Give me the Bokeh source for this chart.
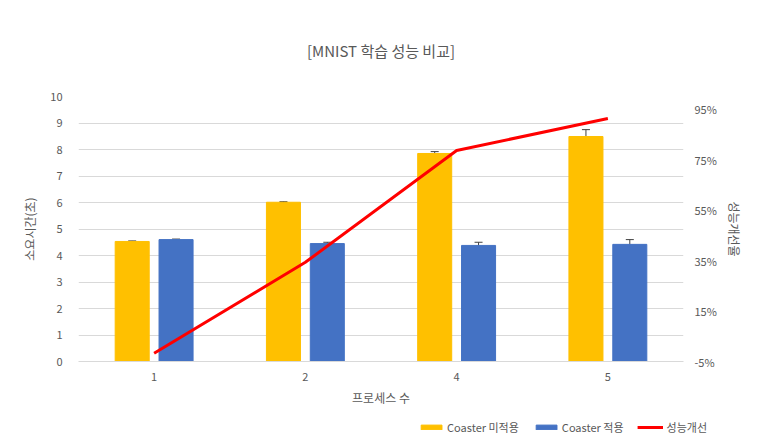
from bokeh.plotting import figure
from bokeh.layouts import column, row
from bokeh.models import (ColumnDataSource, LinearAxis, Range1d, FixedTicker,
                          NumeralTickFormatter, Whisker, TeeHead, Legend, LegendItem)
from bokeh.transform import dodge
from bokeh.embed import file_html
from bokeh.resources import INLINE

# data
processes = ["1", "2", "4", "5"]
time_without = [4.53, 6.01, 7.85, 8.49]
err_without = [0.02, 0.02, 0.07, 0.26]
time_with = [4.60, 4.45, 4.38, 4.42]
err_with = [0.02, 0.05, 0.12, 0.18]
improvement = [-0.017, 0.343, 0.786, 0.913]
series_names = ["Coaster 미적용", "Coaster 적용", "성능개선"]

FONT = "Noto Sans CJK KR"
GRAY = "#595959"
YELLOW, BLUE, RED = "#FFC000", "#4472C4", "#FF0000"

src = ColumnDataSource(dict(
    cat=processes,
    t0=time_without,
    t0_lo=[v - e for v, e in zip(time_without, err_without)],
    t0_hi=[v + e for v, e in zip(time_without, err_without)],
    t1=time_with,
    t1_lo=[v - e for v, e in zip(time_with, err_with)],
    t1_hi=[v + e for v, e in zip(time_with, err_with)],
    pct=improvement,
))

p = figure(x_range=processes, y_range=Range1d(0, 10), width=747, height=411,
           output_backend="svg", toolbar_location=None,
           title="[MNIST 학습 성능 비교]",
           min_border_left=78, min_border_right=64,
           min_border_top=96, min_border_bottom=50)
p.outline_line_color = None
p.title.align = "center"
p.title.text_font = FONT
p.title.text_font_size = "15px"
p.title.text_font_style = "normal"
p.title.text_color = GRAY
p.title.offset = 0
p.title.standoff = 72

p.extra_y_ranges = {"pct": Range1d(-0.05, 1.0)}

b0 = p.vbar(x=dodge("cat", -0.145, range=p.x_range), top="t0", width=0.225,
            source=src, color=YELLOW)
b1 = p.vbar(x=dodge("cat", 0.145, range=p.x_range), top="t1", width=0.225,
            source=src, color=BLUE)

for off, lo, hi in [(-0.145, "t0_lo", "t0_hi"), (0.145, "t1_lo", "t1_hi")]:
    w = Whisker(base=dodge("cat", off, range=p.x_range), lower=lo, upper=hi,
                source=src, line_color="#404040", line_width=1,
                upper_head=TeeHead(size=8, line_color="#404040", line_width=1),
                lower_head=TeeHead(size=8, line_color="#404040", line_width=1))
    p.add_layout(w)

p.line(x="cat", y="pct", source=src, y_range_name="pct",
       line_color=RED, line_width=3)

# axes
p.yaxis.ticker = FixedTicker(ticks=list(range(0, 11)))
p.yaxis.axis_label = "소요시간(초)"
p.xaxis.axis_label = "프로세스 수"
right = LinearAxis(y_range_name="pct", axis_label="성능개선율",
                   ticker=FixedTicker(ticks=[-0.05, 0.15, 0.35, 0.55, 0.75, 0.95]),
                   formatter=NumeralTickFormatter(format="0%"))
p.add_layout(right, "right")

for ax in [p.yaxis[0], p.xaxis[0], right]:
    ax.major_tick_line_color = None
    ax.minor_tick_line_color = None
    ax.major_label_text_font = FONT
    ax.major_label_text_font_size = "11px"
    ax.major_label_text_color = GRAY
    ax.axis_label_text_font = FONT
    ax.axis_label_text_font_size = "12px"
    ax.axis_label_text_font_style = "normal"
    ax.axis_label_text_color = GRAY
p.yaxis[0].axis_line_color = None
right.axis_line_color = None
p.xaxis[0].axis_line_color = "#D9D9D9"
p.xaxis[0].major_label_standoff = 5
p.xaxis[0].axis_label_standoff = 5
p.yaxis[0].major_label_standoff = 10
p.yaxis[0].axis_label_standoff = 9
right.major_label_standoff = 5
right.axis_label_standoff = 6

p.xgrid.grid_line_color = None
p.ygrid.grid_line_color = "#D9D9D9"

# legend strip underneath the chart (hidden proxy glyphs carry the styles)
leg = figure(width=747, height=32, x_range=Range1d(0, 1), y_range=Range1d(0, 1),
             output_backend="svg", toolbar_location=None,
             min_border=0, outline_line_color=None)
leg.axis.visible = False
leg.grid.visible = False
r0 = leg.vbar(x="t0", top="t0", width=0.1, color=YELLOW, source=src, visible=False)
r1 = leg.vbar(x="t1", top="t1", width=0.1, color=BLUE, source=src, visible=False)
r2 = leg.line(x="pct", y="pct", line_color=RED, line_width=3, source=src, visible=False)
legend = Legend(items=[
    LegendItem(label=series_names[0], renderers=[r0]),
    LegendItem(label=series_names[1], renderers=[r1]),
    LegendItem(label=series_names[2], renderers=[r2]),
], orientation="horizontal", location="right", border_line_color=None,
   background_fill_alpha=0, inactive_fill_alpha=0,
   label_text_font=FONT, label_text_font_size="11px",
   label_text_color=GRAY, glyph_width=26, glyph_height=6, spacing=14,
   label_standoff=3, padding=0, margin=40)
leg.add_layout(legend, "center")

open("out.html", "w").write(file_html(column(p, row(leg)), INLINE))
